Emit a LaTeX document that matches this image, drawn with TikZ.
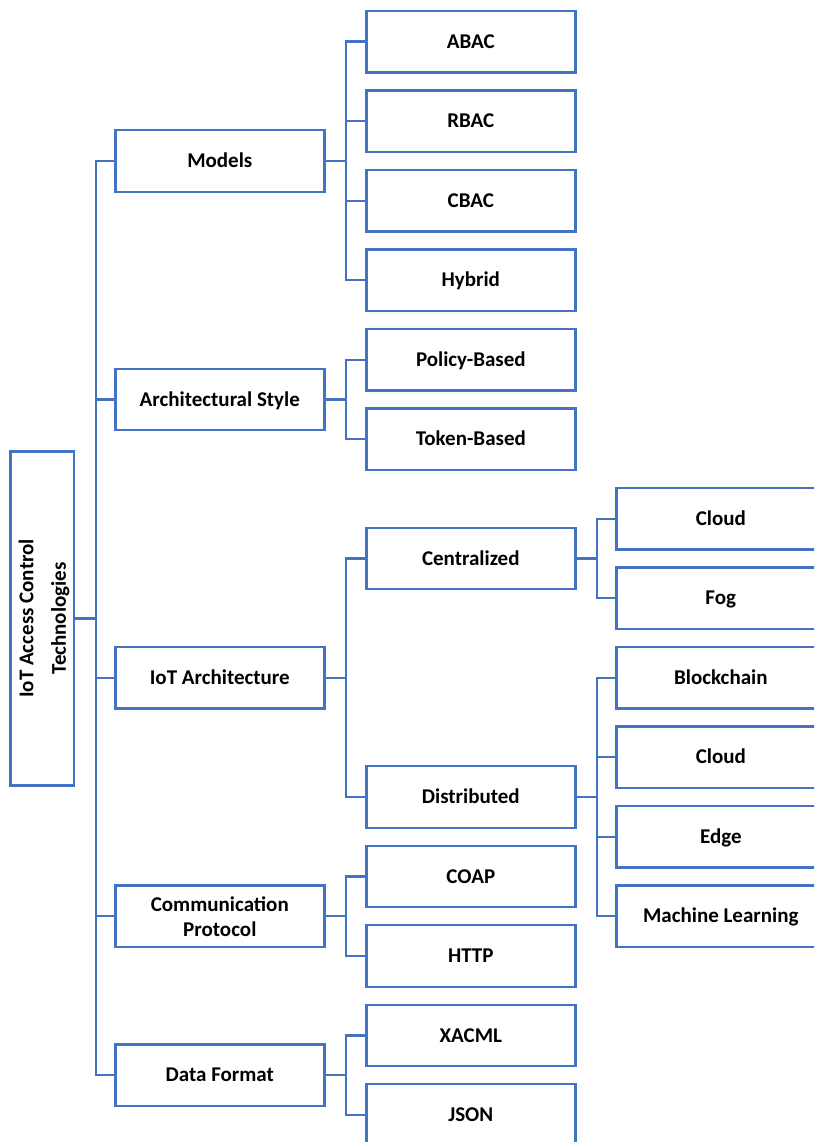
\documentclass[tikz,border=0pt]{standalone}
\usepackage{fontspec}
\setmainfont{Carlito}
\definecolor{ln}{HTML}{4472C4}
\begin{document}
\begin{tikzpicture}[x=1pt,y=-1pt,
  box/.style={draw=ln, line width=2.4pt, fill=white, minimum width=209pt, minimum height=61.5pt,
    inner sep=0pt, align=center, font=\fontsize{21}{25}\selectfont\bfseries, text height=13.5pt, text depth=0pt},
  conn/.style={draw=ln, line width=2.4pt}]
\useasboundingbox (0,0) rectangle (814,1142);
\clip (0,0) rectangle (814,1142);
% root
\node[box, minimum width=63.5pt, minimum height=334pt] (root) at (42.25,618.4) {};
\node[rotate=90, inner sep=0pt, align=center, font=\fontsize{21}{32.4}\selectfont\bfseries, text depth=0pt] (roottxt) at (root.center) {IoT Access Control\\Technologies};
% level 1
\node[box] (models) at (219.8,160.95) {Models};
\node[box] (arch) at (219.8,399.45) {Architectural Style};
\node[box] (iot) at (219.8,677.7) {IoT Architecture};
\node[box, text height={}] (comm) at (219.8,916.2) {Communication\\Protocol};
\node[box] (data) at (219.8,1075.2) {Data Format};
% level 2
\node[box] (abac) at (470.8,41.7) {ABAC};
\node[box] (rbac) at (470.8,121.2) {RBAC};
\node[box] (cbac) at (470.8,200.7) {CBAC};
\node[box] (hybrid) at (470.8,280.2) {Hybrid};
\node[box] (policy) at (470.8,359.7) {Policy-Based};
\node[box] (token) at (470.8,439.2) {Token-Based};
\node[box] (central) at (470.8,558.45) {Centralized};
\node[box] (distr) at (470.8,796.95) {Distributed};
\node[box] (coap) at (470.8,876.45) {COAP};
\node[box] (http) at (470.8,955.95) {HTTP};
\node[box] (xacml) at (470.8,1035.45) {XACML};
\node[box] (json) at (470.8,1114.95) {JSON};
% level 3
\node[box] (cloudA) at (720.8,518.7) {Cloud};
\node[box] (fog) at (720.8,598.2) {Fog};
\node[box] (block) at (720.8,677.7) {Blockchain};
\node[box] (cloudB) at (720.8,757.2) {Cloud};
\node[box] (edge) at (720.8,836.7) {Edge};
\node[box] (ml) at (720.8,916.2) {Machine Learning};
% connectors
\foreach \c in {models,arch,iot,comm,data}
  \draw[conn] (root.east) -- ++(20.75,0) |- (\c.west);
\foreach \c in {abac,rbac,cbac,hybrid}
  \draw[conn] (models.east) -- ++(20.5,0) |- (\c.west);
\foreach \c in {policy,token}
  \draw[conn] (arch.east) -- ++(20.5,0) |- (\c.west);
\foreach \c in {central,distr}
  \draw[conn] (iot.east) -- ++(20.5,0) |- (\c.west);
\foreach \c in {coap,http}
  \draw[conn] (comm.east) -- ++(20.5,0) |- (\c.west);
\foreach \c in {xacml,json}
  \draw[conn] (data.east) -- ++(20.5,0) |- (\c.west);
\foreach \c in {cloudA,fog}
  \draw[conn] (central.east) -- ++(20.5,0) |- (\c.west);
\foreach \c in {block,cloudB,edge,ml}
  \draw[conn] (distr.east) -- ++(20.5,0) |- (\c.west);
\end{tikzpicture}
\end{document}
